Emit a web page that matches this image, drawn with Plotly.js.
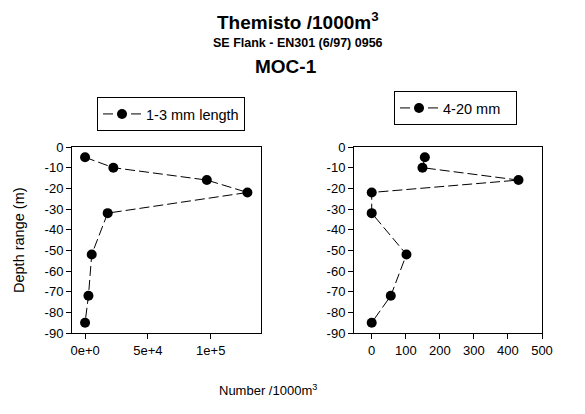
<!DOCTYPE html>
<html><head><meta charset="utf-8">
<script src="https://cdn.plot.ly/plotly-3.0.1.min.js"></script>
<style>html,body{margin:0;padding:0;background:#fff}</style>
</head><body>
<div id="chart" style="width:585px;height:414px"></div>
<script>
const depth = [-5, -10, -16, -22, -32, -52, -72, -85];
const small = [0, 22500, 96900, 129200, 18000, 5300, 2700, 0];
const large = [156, 149, 431, 0, 0, 102, 56, 0];
const yTickVals = [0, -10, -20, -30, -40, -50, -60, -70, -80, -90];
const yTickText = ['0', '-10', '-20', '-30', '-40', '-50', '-60', '-70', '-80', '-90'];
const x1TickVals = [0, 50000, 100000];
const x1TickText = ['0e+0', '5e+4', '1e+5'];
const x2TickVals = [0, 100, 200, 300, 400, 500];
const x2TickText = ['0', '100', '200', '300', '400', '500'];

const F = 'Liberation Sans, Arial, sans-serif';
const traces = [
  {x: small, y: depth, xaxis: 'x', yaxis: 'y', mode: 'lines+markers', name: '1-3 mm length', showlegend: true,
   line: {color: '#000', width: 1, dash: '10px,4px'}, marker: {color: '#000', size: 10}, legend: 'legend'},
  {x: large, y: depth, xaxis: 'x2', yaxis: 'y2', mode: 'lines+markers', name: '4-20 mm', showlegend: true,
   line: {color: '#000', width: 1, dash: '10px,4px'}, marker: {color: '#000', size: 10}, legend: 'legend2'}
];
const ax = {showline: true, linecolor: '#000', linewidth: 1, mirror: true, ticks: 'outside',
  ticklen: 5, tickcolor: '#000', showgrid: false, zeroline: false, tickfont: {family: F, size: 13, color: '#000'}};
const layout = {
  width: 585, height: 414, margin: {l: 0, r: 0, t: 0, b: 0}, showlegend: true,
  paper_bgcolor: '#fff', plot_bgcolor: '#fff', font: {family: F, color: '#000'},
  xaxis: Object.assign({}, ax, {domain: [72/585, 261/585], range: [-10400, 140000], tickvals: x1TickVals, ticktext: x1TickText, anchor: 'y'}),
  yaxis: Object.assign({}, ax, {domain: [81/414, 267/414], range: [-90, 0], tickvals: yTickVals, ticktext: yTickText, anchor: 'x'}),
  xaxis2: Object.assign({}, ax, {domain: [354/585, 542/585], range: [-52, 500], tickvals: x2TickVals, ticktext: x2TickText, anchor: 'y2'}),
  yaxis2: Object.assign({}, ax, {domain: [81/414, 267/414], range: [-90, 0], tickvals: yTickVals, ticktext: yTickText, anchor: 'x2'}),
  legend: {visible: true, orientation: 'h', entrywidth: 93, itemwidth: 38, x: 97/585, y: 1 - 97/414, xanchor: 'left', yanchor: 'top', bordercolor: '#000', borderwidth: 1,
    font: {family: F, size: 14.5, color: '#000'}, bgcolor: '#fff'},
  legend2: {visible: true, orientation: 'h', entrywidth: 68, itemwidth: 38, x: 394/585, y: 1 - 91/414, xanchor: 'left', yanchor: 'top', bordercolor: '#000', borderwidth: 1,
    font: {family: F, size: 14.5, color: '#000'}, bgcolor: '#fff'},
  annotations: [
    {text: '<b>Themisto /1000m<sup>3</sup></b>', x: 298/585, y: 1 - 21/414, xanchor: 'center', yanchor: 'middle', xref: 'paper', yref: 'paper', showarrow: false, font: {family: F, size: 19}},
    {text: '<b>SE Flank - EN301 (6/97) 0956</b>', x: 298/585, y: 1 - 43/414, xanchor: 'center', yanchor: 'middle', xref: 'paper', yref: 'paper', showarrow: false, font: {family: F, size: 12.5}},
    {text: '<b>MOC-1</b>', x: 286/585, y: 1 - 66.5/414, xanchor: 'center', yanchor: 'middle', xref: 'paper', yref: 'paper', showarrow: false, font: {family: F, size: 19}},
    {text: 'Depth range (m)', x: 19/585, y: 1 - 240/414, xanchor: 'center', yanchor: 'middle', xref: 'paper', yref: 'paper', showarrow: false, textangle: -90, font: {family: F, size: 14.5}},
    {text: 'Number /1000m<sup>3</sup>', x: 268/585, y: 1 - 390/414, xanchor: 'center', yanchor: 'middle', xref: 'paper', yref: 'paper', showarrow: false, font: {family: F, size: 13}}
  ]
};
Plotly.newPlot('chart', traces, layout, {displayModeBar: false, staticPlot: true});
</script>
</body></html>
